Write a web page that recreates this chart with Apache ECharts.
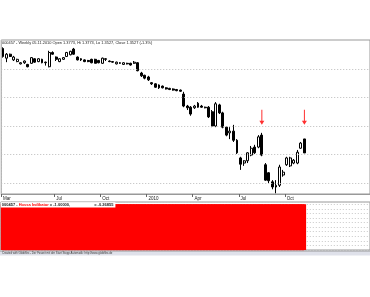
<!DOCTYPE html>
<html><head><meta charset="utf-8">
<script src="https://cdn.jsdelivr.net/npm/echarts@6/dist/echarts.min.js"></script>
<style>html,body{margin:0;padding:0;background:#fff}#c{width:370px;height:297px}</style>
</head><body><div id="c"></div>
<script>
// ---- data ----
const firstWeek = '2009-03-20';   // Friday of first weekly candle
const totalSlots = 104;           // weekly slots on the axis (incl. empty future area)
const openP  = [1.536,1.519,1.526,1.516,1.513,1.509,1.511,1.508,1.510,1.518,1.513,1.517,1.512,1.504,1.529,1.521,1.513,1.517,1.522,1.525,
                1.535,1.521,1.518,1.516,1.515,1.517,1.517,1.515,1.510,1.518,1.514,1.513,1.509,1.511,1.508,1.510,1.510,1.510,1.511,1.493,
                1.489,1.486,1.476,1.474,1.472,1.470,1.467,1.466,1.465,1.464,1.463,1.456,1.435,1.433,1.432,1.440,1.435,1.433,1.433,1.425,
                1.400,1.437,1.423,1.398,1.388,1.391,1.375,1.344,1.335,1.339,1.349,1.363,1.363,1.384,1.332,1.318,1.302,1.293,1.296,1.314,
                1.332,1.330,1.335,1.335,1.361,1.3773];
const closeP = [1.522,1.526,1.522,1.521,1.517,1.511,1.514,1.504,1.520,1.512,1.518,1.511,1.511,1.529,1.526,1.517,1.518,1.520,1.529,1.531,
                1.526,1.516,1.516,1.513,1.513,1.511,1.510,1.511,1.519,1.517,1.513,1.512,1.512,1.510,1.511,1.509,1.507,1.512,1.497,1.488,
                1.484,1.481,1.474,1.468,1.467,1.467,1.465,1.464,1.463,1.462,1.461,1.435,1.432,1.421,1.435,1.433,1.433,1.432,1.416,1.400,
                1.439,1.423,1.398,1.384,1.391,1.375,1.353,1.333,1.339,1.353,1.361,1.353,1.381,1.349,1.305,1.304,1.293,1.296,1.328,1.319,
                1.344,1.344,1.340,1.354,1.370,1.3527];
const lowP   = [1.520,1.512,1.521,1.514,1.512,1.508,1.509,1.503,1.509,1.511,1.512,1.510,1.506,1.503,1.525,1.514,1.512,1.516,1.521,1.524,
                1.525,1.515,1.514,1.512,1.512,1.510,1.510,1.510,1.509,1.514,1.512,1.511,1.508,1.509,1.507,1.508,1.506,1.509,1.496,1.486,
                1.482,1.479,1.472,1.467,1.465,1.466,1.464,1.463,1.462,1.461,1.460,1.433,1.428,1.418,1.430,1.432,1.432,1.431,1.414,1.398,
                1.398,1.421,1.396,1.382,1.377,1.372,1.351,1.323,1.330,1.335,1.347,1.351,1.361,1.347,1.304,1.300,1.289,1.282,1.293,1.311,
                1.330,1.328,1.333,1.333,1.360,1.3527];
const highP  = [1.538,1.528,1.527,1.523,1.518,1.512,1.515,1.509,1.521,1.519,1.519,1.518,1.513,1.532,1.531,1.522,1.519,1.521,1.530,1.532,
                1.537,1.522,1.519,1.517,1.516,1.518,1.518,1.516,1.520,1.519,1.515,1.514,1.513,1.512,1.512,1.511,1.511,1.514,1.512,1.495,
                1.490,1.488,1.477,1.475,1.473,1.471,1.468,1.467,1.466,1.465,1.464,1.460,1.437,1.435,1.437,1.442,1.437,1.434,1.435,1.428,
                1.442,1.439,1.425,1.400,1.398,1.402,1.377,1.346,1.340,1.354,1.365,1.367,1.384,1.388,1.335,1.319,1.305,1.305,1.332,1.323,
                1.346,1.346,1.342,1.358,1.372,1.3773];
const hossaValues = [-1,-1,-1,-1,-1,-1,-1,-1,-1,-1,-1,-1,-1,-1,-1,-1,-1,-1,-1,-1,
                     -1,-1,-1,-1,-1,-1,-1,-1,-1,-1,-1,-1,-1,-1,-1,-1,-1,-1,-1,-1,
                     -1,-1,-1,-1,-1,-1,-1,-1,-1,-1,-1,-1,-1,-1,-1,-1,-1,-1,-1,-1,
                     -1,-1,-1,-1,-1,-1,-1,-1,-1,-1,-1,-1,-1,-1,-1,-1,-1,-1,-1,-1,
                     -1,-1,-1,-1,-1,-1];
const priceGridLevels = [1.30, 1.35, 1.40, 1.45, 1.50];
const signalIdx = [73, 85];
const signalTip = [1.402, 1.402];
const monthNames = ['Jan','Feb','Mar','Apr','May','Jun','Jul','Aug','Sep','Oct','Nov','Dec'];
const headerText = '000457 - Weekly 05.11.2010 Open 1.3773, Hi 1.3773, Lo 1.3527, Close 1.3527 (-1.3%)';
const footerText = 'Created with Globiflex - Der Favorit mit der Start Stopp Automatik: http://www.globiflex.de';

// ---- categories (weekly dates) ----
const weekDates = [];
const d0 = new Date(firstWeek + 'T00:00:00Z');
for (let i = 0; i < totalSlots; i++) {
  const d = new Date(d0.getTime() + i * 7 * 86400000);
  weekDates.push(d.toISOString().slice(0, 10));
}
const labelText = {};
let lastShown = -100, yearIdx = -1;
weekDates.forEach((s, i) => {
  if (i >= openP.length) return;
  const m = +s.slice(5, 7) - 1;
  const pm = i > 0 ? +weekDates[i - 1].slice(5, 7) - 1 : -1;
  if (i === 0) { labelText[i] = monthNames[m]; lastShown = i; return; }
  if (m !== pm && m % 3 === 0 && i - lastShown >= 8) {
    labelText[i] = m === 0 ? s.slice(0, 4) : monthNames[m];
    if (m === 0 && yearIdx < 0) yearIdx = i;
    lastShown = i;
  }
});

const candles = openP.map((o, i) => [o, closeP[i], lowP[i], highP[i]]);
const font = 'Liberation Sans, Arial, sans-serif';
const arrowPath = 'path://M2,0L3,0L3,11L5,11L2.5,15L0,11L2,11Z';

const chart = echarts.init(document.getElementById('c'), null, {renderer: 'canvas'});
chart.setOption({
  animation: false,
  backgroundColor: '#ffffff',
  title: [
    { text: headerText, left: 2, top: 40.5, padding: 0,
      textStyle: { fontSize: 3.9, fontWeight: 'normal', color: '#222', fontFamily: font } },
    { text: '{k|000457 - }{r|Hossa Indikator}{k| = -1.00000,}{g| }{k|= -0.26855}',
      left: 0.8, top: 202.3, padding: [0.6, 2, 0.6, 1], backgroundColor: '#ffffff',
      textStyle: { fontSize: 4, fontFamily: font,
        rich: { k: { fontSize: 4, color: '#222', fontFamily: font },
                r: { fontSize: 4, color: '#ff0000', fontFamily: font },
                g: { fontSize: 4, width: 24 } } } }
  ],
  grid: [
    { left: 0.8, right: 0, top: 40, height: 154, show: true, borderColor: '#999', borderWidth: 1 },
    { left: 0.8, right: 0, top: 202, height: 48, show: true, borderColor: '#999', borderWidth: 1 }
  ],
  xAxis: [
    { type: 'category', gridIndex: 0, data: weekDates, boundaryGap: true,
      axisLine: { show: true, lineStyle: { color: '#999', width: 1 } },
      axisTick: { show: true, length: 3, interval: (i) => labelText[i] !== undefined, lineStyle: { color: '#666' } },
      axisLabel: { show: true, interval: (i) => labelText[i] !== undefined, formatter: (v, i) => labelText[i] || '',
                   align: 'left', margin: 2, fontSize: 4.5, color: '#222', fontFamily: font },
      splitLine: { show: true, interval: (i) => i === yearIdx, lineStyle: { color: '#bbb', type: [1, 2], width: 1 } } },
    { type: 'category', gridIndex: 1, data: weekDates, boundaryGap: true, show: false }
  ],
  yAxis: [
    { type: 'value', gridIndex: 0, min: 1.2807, max: 1.5509, show: false, splitLine: { show: false } },
    { type: 'value', gridIndex: 1, min: -1, max: 0.05, interval: 0.1,
      axisLine: { show: false }, axisTick: { show: false }, axisLabel: { show: false },
      splitLine: { show: true, lineStyle: { color: '#c8c8c8', type: [1, 2], width: 1 } } }
  ],
  series: [
    { type: 'candlestick', xAxisIndex: 0, yAxisIndex: 0, data: candles, barWidth: 2.4,
      itemStyle: { color: '#ffffff', color0: '#000000', borderColor: '#000000', borderColor0: '#000000', borderWidth: 1 },
      markLine: { silent: true, symbol: 'none', label: { show: false },
        lineStyle: { color: '#bbb', type: [1, 2], width: 1 },
        data: priceGridLevels.map(v => ({ yAxis: v })) },
      markPoint: { silent: true, symbol: arrowPath, symbolSize: [5, 15], symbolOffset: [0, '-50%'],
        label: { show: false }, itemStyle: { color: '#ff3030' },
        data: signalIdx.map((k, j) => ({ coord: [weekDates[k], signalTip[j]] })) } },
    { type: 'line', xAxisIndex: 1, yAxisIndex: 1, data: hossaValues, z: 1, symbol: 'none', silent: true,
      lineStyle: { color: '#ff0000', width: 1 }, areaStyle: { color: '#ff0000', opacity: 1, origin: 0 } },
    { type: 'bar', xAxisIndex: 1, yAxisIndex: 1, data: hossaValues, barWidth: '100%', z: 2, silent: true,
      itemStyle: { color: '#ff0000', borderColor: '#ff0000', borderWidth: 1.6, opacity: 1 } }
  ],
  graphic: [
    { type: 'rect', shape: { x: 0, y: 250.5, width: 370, height: 5 }, style: { fill: '#dfe1ea' }, silent: true },
    { type: 'line', shape: { x1: 0, y1: 251, x2: 370, y2: 251 }, style: { stroke: '#999', lineWidth: 1 }, silent: true },
    { type: 'text', style: { text: footerText, x: 2, y: 253.3, fontSize: 2.8, fill: '#333', verticalAlign: 'middle', fontFamily: font }, silent: true }
  ]
});
</script></body></html>
